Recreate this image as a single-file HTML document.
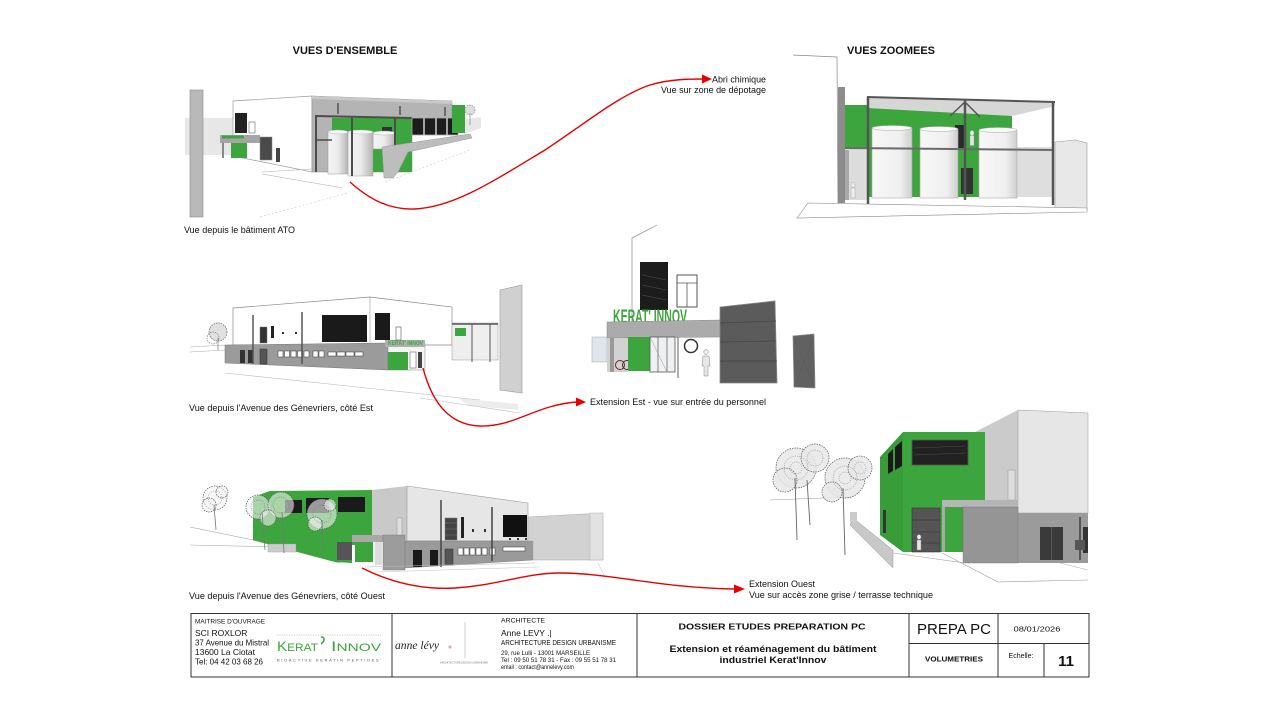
<!DOCTYPE html>
<html><head><meta charset="utf-8">
<style>
html,body{margin:0;padding:0;background:#fff;width:1280px;height:720px;overflow:hidden}
svg{display:block}
text{font-family:"Liberation Sans",Arial,sans-serif;fill:#111}
</style></head><body>
<svg width="1280" height="720" viewBox="0 0 1280 720" xmlns="http://www.w3.org/2000/svg">
<defs>
<linearGradient id="cyl" x1="0" x2="1" y1="0" y2="0">
<stop offset="0" stop-color="#f4f4f4"/><stop offset="0.5" stop-color="#ececec"/><stop offset="1" stop-color="#b5b5b5"/>
</linearGradient>
<linearGradient id="cyl2" x1="0" x2="1" y1="0" y2="0">
<stop offset="0" stop-color="#f7f7f7"/><stop offset="0.7" stop-color="#f0f0f0"/><stop offset="1" stop-color="#cfcfcf"/>
</linearGradient>
</defs>

<!-- Headings -->
<text x="345" y="54" font-size="11" font-weight="bold" text-anchor="middle">VUES D'ENSEMBLE</text>
<text x="891" y="54" font-size="11" font-weight="bold" text-anchor="middle">VUES ZOOMEES</text>

<!-- ================= IMAGE 1 ================= -->
<g>
<rect x="185" y="118" width="50" height="37" fill="#e7e7e7"/>
<polygon points="460,120 481,117 481,128 464,134" fill="#e7e7e7"/>
<rect x="190" y="90" width="13" height="127" fill="#b9b9b9" stroke="#8a8a8a" stroke-width="0.6"/>
<polygon points="233,101 312,96 312,172 233,156" fill="#fff" stroke="#9a9a9a" stroke-width="0.7"/>
<rect x="235" y="113" width="12" height="20" fill="#222"/>
<rect x="249" y="122" width="6" height="11" fill="#fff" stroke="#666" stroke-width="0.6"/>
<rect x="220" y="135" width="40" height="8" fill="#a5a5a5"/>
<rect x="222" y="135.5" width="22" height="3" fill="#3da53d"/>
<rect x="222" y="143" width="2" height="15" fill="#888"/>
<rect x="231" y="143" width="16" height="15" fill="#3da53d"/>
<rect x="260" y="137" width="12" height="23" fill="#4a4a4a" stroke="#888" stroke-width="0.5"/>
<rect x="276" y="148" width="4" height="14" fill="#444"/>
<polygon points="312,96 452,101 452,120 412,119 412,172 312,172" fill="#b4b4b4" stroke="#888" stroke-width="0.5"/>
<polygon points="312,96 452,101 452,104 312,99" fill="#c9c9c9"/>
<rect x="332" y="118" width="80" height="54" fill="#3da53d"/>
<rect x="382" y="127" width="10" height="5" fill="#333"/>
<rect x="373" y="133" width="22" height="16" fill="url(#cyl)" stroke="#999" stroke-width="0.5"/>
<ellipse cx="384" cy="133" rx="11" ry="2" fill="#f6f6f6" stroke="#aaa" stroke-width="0.4"/>
<rect x="328" y="132" width="20" height="42" fill="url(#cyl)" stroke="#999" stroke-width="0.5"/>
<ellipse cx="338" cy="132" rx="10" ry="2" fill="#f6f6f6" stroke="#aaa" stroke-width="0.4"/>
<rect x="348" y="132" width="25" height="44" fill="url(#cyl)" stroke="#999" stroke-width="0.5"/>
<ellipse cx="360.5" cy="132" rx="12.5" ry="2" fill="#f6f6f6" stroke="#aaa" stroke-width="0.4"/>
<line x1="315" y1="116" x2="412" y2="118" stroke="#4d4d4d" stroke-width="2"/>
<line x1="316" y1="115" x2="316" y2="172" stroke="#4d4d4d" stroke-width="2"/>
<line x1="352" y1="116" x2="352" y2="176" stroke="#4d4d4d" stroke-width="2"/>
<line x1="395" y1="117" x2="395" y2="172" stroke="#4d4d4d" stroke-width="2"/>
<line x1="316" y1="140" x2="332" y2="140" stroke="#4d4d4d" stroke-width="1.5"/>
<line x1="338" y1="103" x2="338" y2="114" stroke="#444" stroke-width="1.3"/>
<line x1="400" y1="106" x2="400" y2="115" stroke="#444" stroke-width="1.3"/>
<line x1="445" y1="107" x2="445" y2="116" stroke="#444" stroke-width="1.3"/>
<rect x="412" y="118" width="46" height="17" fill="#1c1c1c" stroke="#aaa" stroke-width="0.8"/>
<line x1="424" y1="118" x2="424" y2="135" stroke="#ccc" stroke-width="1.5"/>
<line x1="436" y1="118" x2="436" y2="135" stroke="#ccc" stroke-width="1.5"/>
<line x1="447" y1="118" x2="447" y2="135" stroke="#ccc" stroke-width="1.5"/>
<rect x="452" y="105" width="13" height="28" fill="#3da53d"/>
<circle cx="470" cy="110" r="5" fill="#ddd" stroke="#777" stroke-width="0.6" stroke-dasharray="1.5 1"/>
<line x1="470" y1="113" x2="470" y2="125" stroke="#777" stroke-width="0.6"/>
<polygon points="382,147 470,134 472,138 408,152 398,172 393,178 384,178" fill="#bdbdbd" stroke="#999" stroke-width="0.5"/>
<line x1="262" y1="172" x2="312" y2="169" stroke="#aaa" stroke-width="0.6"/>
<line x1="262" y1="174" x2="343" y2="188" stroke="#aaa" stroke-width="0.6"/>
<line x1="260" y1="217" x2="348" y2="193" stroke="#ccc" stroke-width="0.6" stroke-dasharray="2 2"/>
<line x1="385" y1="182" x2="470" y2="150" stroke="#ccc" stroke-width="0.6" stroke-dasharray="2 2"/>
</g>
<text x="184" y="233" font-size="9.5" textLength="111" lengthAdjust="spacingAndGlyphs">Vue depuis le bâtiment ATO</text>

<!-- ================= IMAGE 2 ================= -->
<g>
<polyline points="793,55 837,57 838,203" fill="none" stroke="#888" stroke-width="0.7"/>
<rect x="838" y="87" width="7" height="116" fill="#8c8c8c"/>
<rect x="845" y="105" width="167" height="92" fill="#3da53d"/>
<rect x="845" y="148" width="22" height="52" fill="#dcdcdc"/>
<rect x="845" y="150" width="4" height="50" fill="#a9a9a9"/>
<polygon points="867,97 1055,102 1055,106 1012,116 867,108" fill="#d6d6d6"/>
<line x1="867" y1="97" x2="1055" y2="102" stroke="#555" stroke-width="2"/>
<rect x="1012" y="147" width="41" height="50" fill="#dedede"/>
<polygon points="1055,142 1075,140 1087,143 1087,210 1055,208" fill="#e8e8e8" stroke="#999" stroke-width="0.6"/>
<rect x="955" y="125" width="11" height="23" fill="#2a2a2a"/>
<rect x="961" y="168" width="12" height="26" fill="#333"/>
<rect x="872" y="128" width="40" height="70" fill="url(#cyl2)" stroke="#aaa" stroke-width="0.6"/>
<ellipse cx="892" cy="128" rx="20" ry="2.5" fill="#f8f8f8" stroke="#aaa" stroke-width="0.5"/>
<rect x="920" y="129" width="38" height="69" fill="url(#cyl2)" stroke="#aaa" stroke-width="0.6"/>
<ellipse cx="939" cy="129" rx="19" ry="2.5" fill="#f8f8f8" stroke="#aaa" stroke-width="0.5"/>
<rect x="979" y="130" width="38" height="68" fill="url(#cyl2)" stroke="#aaa" stroke-width="0.6"/>
<ellipse cx="998" cy="130" rx="19" ry="2.5" fill="#f8f8f8" stroke="#aaa" stroke-width="0.5"/>
<line x1="845" y1="148" x2="1053" y2="150" stroke="#6a6a6a" stroke-width="2"/>
<line x1="868" y1="97" x2="868" y2="205" stroke="#555" stroke-width="2.5"/>
<line x1="965" y1="99" x2="965" y2="200" stroke="#555" stroke-width="2.5"/>
<line x1="1053" y1="102" x2="1053" y2="205" stroke="#555" stroke-width="2.5"/>
<line x1="950" y1="116" x2="965" y2="102" stroke="#555" stroke-width="1.5"/>
<line x1="965" y1="102" x2="980" y2="117" stroke="#555" stroke-width="1.5"/>
<ellipse cx="972" cy="133" rx="2" ry="2.5" fill="#eee" stroke="#999" stroke-width="0.4"/>
<rect x="970" y="135.5" width="4" height="10" fill="#e6e6e6" stroke="#999" stroke-width="0.4"/>
<ellipse cx="853" cy="185" rx="2" ry="2.5" fill="#eee" stroke="#999" stroke-width="0.4"/>
<rect x="851" y="188" width="4" height="10" fill="#eee" stroke="#999" stroke-width="0.4"/>
<polygon points="797,218 808,203 1087,208 1087,212" fill="#fff" stroke="#888" stroke-width="0.6"/>
</g>

<!-- arrow 1 -->
<path d="M350,182 C370,200 390,210 415,209 C455,207 495,180 545,150 C590,120 620,95 650,85 C670,79 690,79 703,79" fill="none" stroke="#e60000" stroke-width="1.4"/>
<polygon points="702,74.5 712,79 702,83.5" fill="#e60000"/>
<text x="766" y="82.5" font-size="9" text-anchor="end" textLength="54" lengthAdjust="spacingAndGlyphs">Abri chimique</text>
<text x="766" y="93" font-size="9" text-anchor="end" textLength="105" lengthAdjust="spacingAndGlyphs">Vue sur zone de dépotage</text>

<!-- ================= IMAGE 3 ================= -->
<g>
<polygon points="458,398 518,404 518,410 470,406" fill="#ececec"/>
<line x1="190" y1="347" x2="225" y2="345" stroke="#aaa" stroke-width="0.6"/>
<line x1="190" y1="352" x2="225" y2="350" stroke="#aaa" stroke-width="0.6"/>
<circle cx="218" cy="332" r="9" fill="#e0e0e0" stroke="#666" stroke-width="0.7" stroke-dasharray="1.5 1"/>
<circle cx="213" cy="338" r="6" fill="none" stroke="#666" stroke-width="0.6" stroke-dasharray="1.5 1"/>
<line x1="218" y1="338" x2="218" y2="350" stroke="#777" stroke-width="0.7"/>
<polygon points="233,308 370,297 452,307 452,345 233,345" fill="#fff" stroke="#888" stroke-width="0.7"/>
<line x1="370" y1="297" x2="370" y2="343" stroke="#999" stroke-width="0.6"/>
<polygon points="225,345 388,343 388,370 225,363" fill="#9b9b9b" stroke="#777" stroke-width="0.5"/>
<rect x="240" y="350" width="5" height="13" fill="#333"/>
<rect x="248" y="350" width="5" height="13" fill="#333"/>
<rect x="260" y="349" width="7" height="15" fill="#555" stroke="#333" stroke-width="0.5"/>
<g fill="#fff" stroke="#333" stroke-width="0.5">
<rect x="278" y="351" width="5" height="6"/><rect x="284.5" y="351" width="5" height="6"/><rect x="291" y="351" width="5" height="6"/><rect x="297.5" y="351" width="5" height="6"/><rect x="304" y="351" width="5" height="6"/>
<rect x="313" y="351" width="5" height="6"/><rect x="319" y="351" width="5" height="6"/>
<rect x="328" y="352" width="8" height="4"/><rect x="337" y="352" width="8" height="4"/><rect x="346" y="352" width="8" height="4"/><rect x="355" y="352" width="8" height="4"/>
</g>
<rect x="322" y="315" width="45" height="27" fill="#1a1a1a"/>
<rect x="375" y="313" width="15" height="27" fill="#1a1a1a"/>
<rect x="260" y="327" width="7" height="16" fill="#333" stroke="#777" stroke-width="0.5"/>
<rect x="271" y="326" width="3" height="12" fill="#222"/>
<rect x="282" y="332" width="2" height="2" fill="#333"/>
<rect x="295" y="332" width="2" height="2" fill="#333"/>
<line x1="253" y1="315" x2="253" y2="364" stroke="#555" stroke-width="1.5"/>
<line x1="302" y1="312" x2="302" y2="364" stroke="#555" stroke-width="1.5"/>
<rect x="388" y="343" width="37" height="27" fill="#f4f4f4" stroke="#888" stroke-width="0.5"/>
<rect x="385" y="340" width="40" height="7" fill="#b0b0b0"/>
<text x="388" y="345" font-size="6" font-weight="bold" style="fill:#3da53d" textLength="35" lengthAdjust="spacingAndGlyphs">KERAT' INNOV</text>
<rect x="388" y="352" width="20" height="18" fill="#3da53d"/>
<rect x="410" y="352" width="6" height="16" fill="#fff" stroke="#555" stroke-width="0.5"/>
<rect x="418" y="352" width="4" height="16" fill="#444"/>
<rect x="396" y="327" width="5" height="13" fill="#fff" stroke="#555" stroke-width="0.6"/>
<rect x="452" y="323" width="46" height="37" fill="#eee" stroke="#999" stroke-width="0.5"/>
<line x1="452" y1="324" x2="498" y2="324" stroke="#555" stroke-width="1.5"/>
<rect x="455" y="328" width="11" height="8" fill="#3da53d"/>
<line x1="472" y1="324" x2="472" y2="362" stroke="#555" stroke-width="1"/>
<line x1="490" y1="324" x2="490" y2="362" stroke="#555" stroke-width="1"/>
<polygon points="500,290 522,285 522,393 500,390" fill="#d0d0d0" stroke="#999" stroke-width="0.6"/>
<line x1="225" y1="373" x2="480" y2="400" stroke="#bbb" stroke-width="0.6"/>
<line x1="420" y1="398" x2="520" y2="413" stroke="#bbb" stroke-width="0.6"/>
</g>
<text x="189" y="411" font-size="9.5" textLength="184" lengthAdjust="spacingAndGlyphs">Vue depuis l'Avenue des Génevriers, côté Est</text>

<!-- ================= IMAGE 4 ================= -->
<g>
<polyline points="657,225 632,238 632,322" fill="none" stroke="#888" stroke-width="0.7"/>
<rect x="640" y="262" width="28" height="48" fill="#1c1c1c"/>
<g stroke="#555" stroke-width="0.5">
<line x1="642" y1="275" x2="666" y2="280"/><line x1="642" y1="285" x2="666" y2="290"/><line x1="642" y1="295" x2="666" y2="300"/>
</g>
<rect x="677" y="275" width="20" height="32" fill="#fff" stroke="#555" stroke-width="1"/>
<line x1="677" y1="283" x2="697" y2="283" stroke="#555" stroke-width="0.8"/>
<line x1="687" y1="283" x2="687" y2="307" stroke="#555" stroke-width="0.8"/>
<text x="613" y="323" font-size="19" font-weight="bold" style="fill:#3da53d" textLength="74" lengthAdjust="spacingAndGlyphs">KERAT' INNOV</text>
<rect x="592" y="337" width="15" height="25" fill="#dfe5ea" stroke="#aaa" stroke-width="0.5"/>
<polygon points="607,322 720,320 720,337 607,338" fill="#ababab" stroke="#888" stroke-width="0.5"/>
<rect x="607" y="338" width="21" height="34" fill="#d2d2d2"/>
<rect x="610" y="338" width="4" height="34" fill="#9a9a9a"/>
<circle cx="620" cy="365" r="4.5" fill="none" stroke="#7a2020" stroke-width="1"/>
<circle cx="627" cy="365" r="4.5" fill="none" stroke="#333" stroke-width="1"/>
<rect x="628" y="337" width="22" height="34" fill="#3da53d"/>
<rect x="650" y="337" width="25" height="35" fill="#edf1f2" stroke="#555" stroke-width="0.8"/>
<line x1="658" y1="337" x2="658" y2="372" stroke="#555" stroke-width="0.7"/>
<line x1="667" y1="337" x2="667" y2="372" stroke="#555" stroke-width="0.7"/>
<line x1="650" y1="337" x2="667" y2="372" stroke="#888" stroke-width="0.4"/>
<line x1="678" y1="337" x2="678" y2="378" stroke="#777" stroke-width="1.2"/>
<circle cx="691" cy="346" r="6.5" fill="#fff" stroke="#333" stroke-width="1.5"/>
<ellipse cx="706" cy="352" rx="2.2" ry="2.6" fill="#eee" stroke="#888" stroke-width="0.5"/>
<path d="M703,356 L709,356 L710,366 L708,366 L708,376 L704,376 L704,366 L702,366 Z" fill="#e6e6e6" stroke="#888" stroke-width="0.5"/>
<polygon points="720,307 775,301 777,383 720,383" fill="#5b5b5b" stroke="#888" stroke-width="0.8"/>
<line x1="720" y1="323" x2="776" y2="321" stroke="#444" stroke-width="0.8"/>
<line x1="720" y1="342" x2="776" y2="341" stroke="#444" stroke-width="0.8"/>
<line x1="720" y1="361" x2="777" y2="361" stroke="#444" stroke-width="0.8"/>
<polygon points="793,336 814,334 815,388 794,387" fill="#616161" stroke="#888" stroke-width="0.7"/>
<line x1="794" y1="337" x2="814" y2="386" stroke="#555" stroke-width="0.4"/>
<line x1="814" y1="337" x2="794" y2="386" stroke="#555" stroke-width="0.4"/>
</g>
<!-- arrow 2 -->
<path d="M423,368 C430,395 445,425 480,426 C515,427 535,405 577,402" fill="none" stroke="#e60000" stroke-width="1.4"/>
<polygon points="576,397.5 586,402 576,406.5" fill="#e60000"/>
<text x="590" y="405" font-size="9.5" textLength="176" lengthAdjust="spacingAndGlyphs">Extension Est - vue sur entrée du personnel</text>

<!-- ================= IMAGE 5 ================= -->
<g>
<line x1="190" y1="527" x2="253" y2="540" stroke="#999" stroke-width="0.6"/>
<line x1="190" y1="545" x2="280" y2="547" stroke="#aaa" stroke-width="0.6"/>
<line x1="253" y1="540" x2="340" y2="563" stroke="#999" stroke-width="0.6"/>
<polygon points="253,497 270,491 372,490 372,545 352,545 352,563 335,562 253,540" fill="#3da53d"/>
<rect x="285" y="500" width="17" height="13" fill="#1a1a1a"/>
<rect x="306" y="498" width="23" height="15" fill="#1a1a1a"/>
<rect x="338" y="497" width="27" height="15" fill="#1a1a1a"/>
<rect x="337" y="542" width="15" height="18" fill="#555"/>
<rect x="268" y="544" width="28" height="8" fill="#ccc" stroke="#999" stroke-width="0.4"/>
<polygon points="372,490 407,486 407,541 372,535" fill="#c9c9c9"/>
<rect x="397" y="518" width="5" height="19" fill="#ddd" stroke="#999" stroke-width="0.5"/>
<polygon points="407,486 528,503 528,541 407,541" fill="#e6e6e6" stroke="#999" stroke-width="0.6"/>
<polygon points="352,535 405,535 405,570 383,570 383,542 352,542" fill="#a8a8a8"/>
<rect x="383" y="535" width="22" height="35" fill="#9c9c9c" stroke="#777" stroke-width="0.4"/>
<rect x="355" y="542" width="18" height="20" fill="#3da53d"/>
<rect x="375" y="542" width="7" height="23" fill="#ddd"/>
<polygon points="405,541 533,541 533,560 405,568" fill="#9a9a9a" stroke="#777" stroke-width="0.4"/>
<rect x="413" y="550" width="9" height="17" fill="#1a1a1a"/>
<rect x="430" y="550" width="8" height="16" fill="#1a1a1a"/>
<rect x="445" y="549" width="8" height="16" fill="#555" stroke="#333" stroke-width="0.5"/>
<g fill="#fff" stroke="#333" stroke-width="0.5">
<rect x="458" y="548" width="5" height="7"/><rect x="464" y="548" width="5" height="7"/><rect x="470" y="548" width="5" height="7"/><rect x="476" y="548" width="5" height="7"/><rect x="482" y="548" width="5" height="7"/><rect x="490" y="548" width="5" height="7"/>
<rect x="503" y="547" width="22" height="4"/>
</g>
<rect x="445" y="518" width="12" height="22" fill="#444" stroke="#777" stroke-width="0.5"/>
<line x1="445" y1="523" x2="457" y2="523" stroke="#888" stroke-width="0.4"/>
<line x1="445" y1="529" x2="457" y2="529" stroke="#888" stroke-width="0.4"/>
<line x1="445" y1="535" x2="457" y2="535" stroke="#888" stroke-width="0.4"/>
<rect x="461" y="517" width="3" height="21" fill="#222"/>
<rect x="472" y="529" width="2" height="3" fill="#333"/>
<rect x="484" y="529" width="2" height="3" fill="#333"/>
<rect x="503" y="515" width="24" height="22" fill="#111"/>
<rect x="509" y="538" width="2" height="2" fill="#333"/><rect x="517" y="538" width="2" height="2" fill="#333"/><rect x="525" y="538" width="2" height="2" fill="#333"/>
<line x1="441" y1="500" x2="441" y2="567" stroke="#444" stroke-width="1.5"/>
<line x1="492" y1="507" x2="492" y2="561" stroke="#444" stroke-width="1.5"/>
<polygon points="528,517 603,513 603,560 533,560 533,541 528,541" fill="#d2d2d2" stroke="#aaa" stroke-width="0.5"/>
<rect x="590" y="513" width="13" height="47" fill="#e2e2e2" stroke="#aaa" stroke-width="0.4"/>
<line x1="365" y1="567" x2="535" y2="563" stroke="#bbb" stroke-width="0.6"/>
<line x1="375" y1="572" x2="540" y2="567" stroke="#ccc" stroke-width="0.6"/>
<line x1="598" y1="563" x2="605" y2="577" stroke="#ccc" stroke-width="0.6"/>
<!-- trees -->
<g fill="#f2f2f2" fill-opacity="0.6" stroke="#555" stroke-width="0.7" stroke-dasharray="1.5 1">
<circle cx="215" cy="498" r="12"/><circle cx="209" cy="505" r="7"/><circle cx="222" cy="492" r="6"/>
<circle cx="258" cy="507" r="12"/><circle cx="281" cy="505" r="13"/><circle cx="268" cy="518" r="8"/>
<circle cx="322" cy="514" r="15"/><circle cx="315" cy="524" r="7"/><circle cx="330" cy="505" r="6"/>
</g>
<g fill="none" stroke="#666" stroke-width="0.5" stroke-dasharray="1 1.2">
<circle cx="215" cy="498" r="7"/><circle cx="258" cy="507" r="7"/><circle cx="281" cy="505" r="8"/><circle cx="322" cy="514" r="9"/>
</g>
<g stroke="#777" stroke-width="0.8">
<line x1="214" y1="505" x2="216" y2="530"/>
<line x1="262" y1="512" x2="265" y2="550"/><line x1="282" y1="512" x2="284" y2="553"/>
<line x1="322" y1="520" x2="323" y2="551"/>
</g>
</g>
<!-- arrow 3 -->
<path d="M362,568 C390,582 420,590 455,588 C500,585 525,573 560,573 C610,573 660,588 735,589" fill="none" stroke="#e60000" stroke-width="1.4"/>
<polygon points="734,584.5 745,589 734,593.5" fill="#e60000"/>
<text x="189" y="599" font-size="9.5" textLength="196" lengthAdjust="spacingAndGlyphs">Vue depuis l'Avenue des Génevriers, côté Ouest</text>
<text x="749" y="587" font-size="9.5" textLength="66" lengthAdjust="spacingAndGlyphs">Extension Ouest</text>
<text x="749" y="598" font-size="9.5" textLength="184" lengthAdjust="spacingAndGlyphs">Vue sur accès zone grise / terrasse technique</text>

<!-- ================= IMAGE 6 ================= -->
<g>
<line x1="770" y1="500" x2="850" y2="497" stroke="#999" stroke-width="0.6"/>
<polygon points="973,433 1018,410 1018,513 973,513" fill="#cbcbcb"/>
<polygon points="1018,410 1088,413 1088,513 1018,513" fill="#e6e6e6" stroke="#999" stroke-width="0.5"/>
<rect x="1008" y="470" width="7" height="30" fill="#ddd" stroke="#999" stroke-width="0.5"/>
<rect x="1018" y="513" width="70" height="50" fill="#9b9b9b"/>
<rect x="1040" y="527" width="23" height="33" fill="#3a3a3a"/>
<line x1="1051.5" y1="527" x2="1051.5" y2="560" stroke="#777" stroke-width="0.5"/>
<rect x="1083" y="527" width="5" height="26" fill="#333"/>
<line x1="1080" y1="517" x2="1080" y2="560" stroke="#555" stroke-width="2"/>
<rect x="1075" y="540" width="10" height="10" fill="#555"/>
<polygon points="880,457 903,432 903,552 880,535" fill="#389c38"/>
<rect x="903" y="432" width="82" height="120" fill="#3da53d"/>
<rect x="912" y="440" width="56" height="25" fill="#222" stroke="#555" stroke-width="0.8"/>
<g stroke="#555" stroke-width="0.4"><line x1="914" y1="448" x2="966" y2="446"/><line x1="914" y1="455" x2="966" y2="453"/></g>
<polygon points="888,454 893,449 893,471 888,474" fill="#1a1a1a"/>
<polygon points="895,447 902,441 902,466 895,470" fill="#1a1a1a"/>
<rect x="883" y="510" width="3" height="23" fill="#333"/>
<rect x="912" y="508" width="28" height="44" fill="#555" stroke="#333" stroke-width="0.6"/>
<line x1="912" y1="520" x2="940" y2="520" stroke="#333" stroke-width="0.6"/>
<line x1="912" y1="532" x2="940" y2="532" stroke="#333" stroke-width="0.6"/>
<line x1="912" y1="543" x2="940" y2="543" stroke="#333" stroke-width="0.6"/>
<polygon points="942,500 1018,500 1018,507 942,507" fill="#b5b5b5"/>
<rect x="942" y="507" width="3" height="45" fill="#aaa"/>
<rect x="945" y="510" width="17" height="42" fill="#3da53d"/>
<rect x="963" y="507" width="55" height="56" fill="#959595" stroke="#777" stroke-width="0.4"/>
<ellipse cx="919" cy="537" rx="2" ry="2.4" fill="#eee" stroke="#888" stroke-width="0.4"/>
<rect x="917" y="540" width="4" height="10" fill="#e6e6e6" stroke="#888" stroke-width="0.4"/>
<polygon points="853,518 893,550 893,568 850,525" fill="#c8c8c8" stroke="#999" stroke-width="0.5"/>
<rect x="850" y="512" width="7" height="10" fill="#ccc"/>
<line x1="893" y1="553" x2="965" y2="563" stroke="#999" stroke-width="0.6"/>
<line x1="942" y1="553" x2="998" y2="582" stroke="#999" stroke-width="0.6"/>
<line x1="998" y1="582" x2="1088" y2="580" stroke="#999" stroke-width="0.6"/>
<line x1="1060" y1="563" x2="1088" y2="570" stroke="#aaa" stroke-width="0.6"/>
<g fill="#e8e8e8" fill-opacity="0.85" stroke="#555" stroke-width="0.7" stroke-dasharray="1.5 1">
<circle cx="796" cy="468" r="20"/><circle cx="815" cy="458" r="14"/><circle cx="785" cy="480" r="12"/>
<circle cx="845" cy="478" r="20"/><circle cx="860" cy="468" r="12"/><circle cx="832" cy="492" r="10"/>
</g>
<g fill="none" stroke="#666" stroke-width="0.5" stroke-dasharray="1 1.2">
<circle cx="796" cy="468" r="12"/><circle cx="796" cy="468" r="6"/><circle cx="815" cy="458" r="8"/>
<circle cx="845" cy="478" r="12"/><circle cx="845" cy="478" r="6"/><circle cx="860" cy="468" r="6"/>
</g>
<g stroke="#666" stroke-width="0.9">
<line x1="795" y1="478" x2="797" y2="540"/><line x1="807" y1="480" x2="810" y2="525"/>
<line x1="843" y1="488" x2="845" y2="555"/>
</g>
</g>

<!-- ================= TITLE BLOCK ================= -->
<g fill="none" stroke="#333" stroke-width="1">
<rect x="191" y="613.5" width="898" height="63.5"/>
<line x1="392" y1="613.5" x2="392" y2="677"/>
<line x1="637" y1="613.5" x2="637" y2="677"/>
<line x1="909" y1="613.5" x2="909" y2="677"/>
<line x1="998" y1="613.5" x2="998" y2="677"/>
<line x1="909" y1="643.5" x2="1089" y2="643.5"/>
<line x1="1044" y1="643.5" x2="1044" y2="677"/>
</g>
<text x="195" y="623.5" font-size="6.5" textLength="70" lengthAdjust="spacingAndGlyphs">MAITRISE D'OUVRAGE</text>
<text x="195" y="636" font-size="8.5">SCI ROXLOR</text>
<text x="195" y="645.5" font-size="8.5" textLength="74" lengthAdjust="spacingAndGlyphs">37 Avenue du Mistral</text>
<text x="195" y="655" font-size="8.5">13600 La Ciotat</text>
<text x="195" y="664.5" font-size="8.5" textLength="68" lengthAdjust="spacingAndGlyphs">Tel: 04 42 03 68 26</text>
<line x1="277" y1="635" x2="381" y2="635" stroke="#bbb" stroke-width="0.8" stroke-dasharray="1.2 1.2"/>
<text x="277" y="651" font-size="14" style="fill:#3da53d" textLength="41" lengthAdjust="spacingAndGlyphs">K<tspan font-size="11">ERAT</tspan></text>
<path d="M321,637 q3,0 3,2 q0,3 -3,5" fill="none" stroke="#3da53d" stroke-width="1.6"/>
<text x="331" y="651" font-size="14" style="fill:#3da53d" textLength="50" lengthAdjust="spacingAndGlyphs">I<tspan font-size="11">NNOV</tspan></text>
<text x="277" y="661.5" font-size="4" style="fill:#555" textLength="104" lengthAdjust="spacing">BIOACTIVE KERATIN PEPTIDES'</text>

<text x="395" y="649" font-size="12" font-style="italic" style="font-family:'Liberation Serif',serif;fill:#222" textLength="44" lengthAdjust="spacingAndGlyphs">anne lévy</text>
<circle cx="450" cy="647" r="1.5" fill="#d8a8b8"/>
<line x1="465" y1="622" x2="465" y2="658" stroke="#bbb" stroke-width="0.7"/>
<text x="440" y="663.5" font-size="2.5" style="fill:#777" textLength="48" lengthAdjust="spacingAndGlyphs">ARCHITECTURE DESIGN URBANISME</text>

<text x="501" y="622.5" font-size="6.5" textLength="44" lengthAdjust="spacingAndGlyphs">ARCHITECTE</text>
<text x="501" y="636" font-size="8.5">Anne LEVY .|</text>
<text x="501" y="645" font-size="7" textLength="115" lengthAdjust="spacingAndGlyphs">ARCHITECTURE DESIGN URBANISME</text>
<text x="501" y="655" font-size="6.5" textLength="89" lengthAdjust="spacingAndGlyphs">29, rue Lulli - 13001 MARSEILLE</text>
<text x="501" y="662" font-size="6.5" textLength="115" lengthAdjust="spacingAndGlyphs">Tel : 09 50 51 78 31 - Fax : 09 55 51 78 31</text>
<text x="501" y="669" font-size="6.5" textLength="73" lengthAdjust="spacingAndGlyphs">email : contact@annelevy.com</text>

<text x="772" y="629.5" font-size="8.5" font-weight="bold" text-anchor="middle" textLength="187" lengthAdjust="spacingAndGlyphs">DOSSIER ETUDES PREPARATION PC</text>
<text x="773" y="652" font-size="9.5" font-weight="bold" text-anchor="middle" textLength="207" lengthAdjust="spacingAndGlyphs">Extension et réaménagement du bâtiment</text>
<text x="773" y="663" font-size="9.5" font-weight="bold" text-anchor="middle" textLength="107" lengthAdjust="spacingAndGlyphs">industriel Kerat'Innov</text>

<text x="954" y="634" font-size="15" text-anchor="middle">PREPA PC</text>
<text x="1037" y="631.5" font-size="7.5" text-anchor="middle" textLength="47" lengthAdjust="spacingAndGlyphs">08/01/2026</text>
<text x="954" y="661.5" font-size="7" font-weight="bold" text-anchor="middle" textLength="58" lengthAdjust="spacingAndGlyphs">VOLUMETRIES</text>
<text x="1021" y="658" font-size="7" text-anchor="middle">Echelle:</text>
<text x="1066" y="666" font-size="15" font-weight="bold" text-anchor="middle">11</text>
</svg>
</body></html>
